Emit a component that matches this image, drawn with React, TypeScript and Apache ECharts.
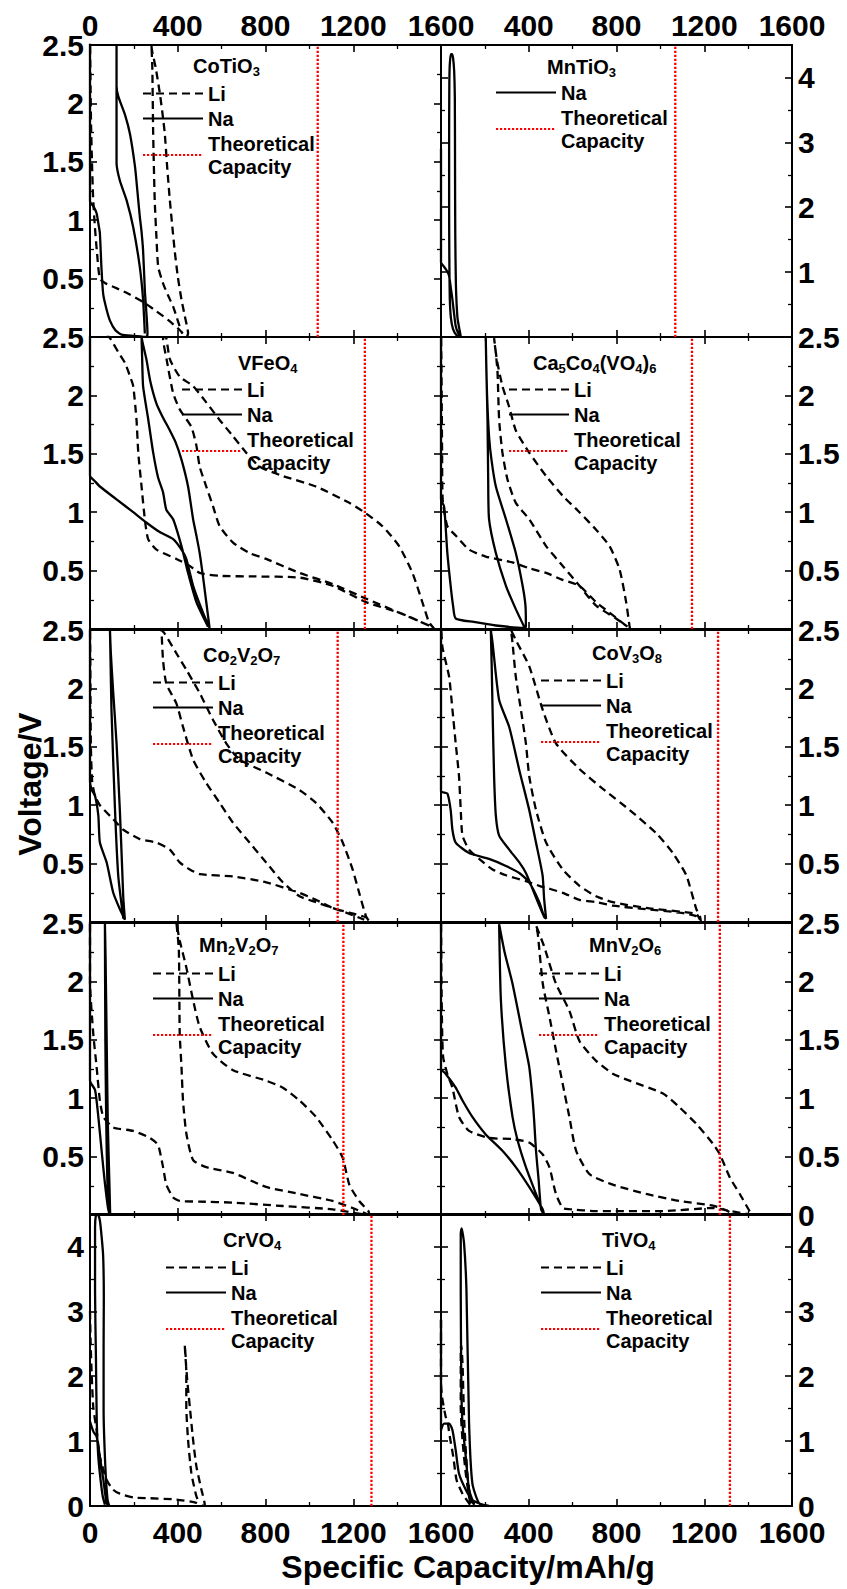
import React, { useEffect, useRef } from "react";
import * as echarts from "echarts";

const FONT = '"Liberation Sans", Arial, Helvetica, sans-serif';

// ---------- categories / labels ----------
const materials = ["CoTiO3", "MnTiO3", "VFeO4", "Ca5Co4(VO4)6", "Co2V2O7", "CoV3O8", "Mn2V2O7", "MnV2O6", "CrVO4", "TiVO4"];
const titleRich = [
  "{a|CoTiO}{s|3}",
  "{a|MnTiO}{s|3}",
  "{a|VFeO}{s|4}",
  "{a|Ca}{s|5}{a|Co}{s|4}{a|(VO}{s|4}{a|)}{s|6}",
  "{a|Co}{s|2}{a|V}{s|2}{a|O}{s|7}",
  "{a|CoV}{s|3}{a|O}{s|8}",
  "{a|Mn}{s|2}{a|V}{s|2}{a|O}{s|7}",
  "{a|MnV}{s|2}{a|O}{s|6}",
  "{a|CrVO}{s|4}",
  "{a|TiVO}{s|4}",
];
const xTicks = [0, 400, 800, 1200, 1600];
const voltageMax = [2.5, 4.5, 2.5, 2.5, 2.5, 2.5, 2.5, 2.5, 4.5, 4.5];
const theoreticalCapacity = [1038, 1068, 1253, 1144, 1129, 1263, 1155, 1271, 1283, 1317];

// ---------- series values: [capacity mAh/g, voltage V] ----------
const coTiO3Li = [[0,2.6],[2,2.2],[5,1.8],[9,1.5],[14,1.2],[22,0.95],[32,0.72],[45,0.5],[70,0.46],[106,0.43],[175,0.37],[242,0.30],[303,0.22],[360,0.14],[409,0.06],[440,0],
  [447,0.03],[432,0.18],[417,0.32],[400,0.52],[386,0.74],[375,0.95],[364,1.17],[352,1.45],[341,1.74],[330,1.92],[318,2.09],[300,2.3],[282,2.46],[280,2.5],
  [284,2.31],[288,1.74],[295,1.17],[303,0.85],[311,0.60],[333,0.46],[355,0.36],[379,0.26],[395,0.17],[409,0.09],[420,0.03]];
const coTiO3Na = [[0,2.6],[0,1.16],[15,1.12],[30,1.06],[40,0.95],[45,0.89],[52,0.6],[60,0.37],[75,0.24],[91,0.14],[115,0.06],[144,0.02],[200,0.01],[258,0],
  [262,0.03],[250,0.4],[242,0.74],[235,0.9],[227,1.03],[216,1.25],[205,1.46],[182,1.74],[160,1.9],[129,2.06],[121,2.15],[121,2.5],
  [121,2.03],[121,1.49],[136,1.34],[167,1.17],[197,0.94],[227,0.60],[242,0.32],[250,0.03]];

const mnTiO3Na = [[0,2.9],[0,1.15],[10,1.1],[21,1.05],[30,1.0],[37,0.94],[45,0.75],[52,0.58],[60,0.35],[67,0.17],[78,0.06],[90,0.01],
  [85,0.1],[75,0.3],[68,0.8],[65,1.6],[64,2.6],[63,3.7],[60,4.1],[55,4.3],[50,4.36],[45,4.36],[40,4.2],[38,3.9],
  [37,3.0],[37,2.0],[38,1.2],[40,0.6],[45,0.3],[55,0.12],[70,0.03],[85,0]];

const vFeO4Li = [[0,2.7],[30,2.64],[91,2.49],[129,2.37],[159,2.28],[185,2.15],[197,2.08],[212,1.79],[220,1.51],[235,1.22],[250,0.94],[265,0.77],[303,0.68],[394,0.60],[455,0.54],[500,0.48],[591,0.455],[750,0.45],[955,0.44],[1106,0.37],[1258,0.23],[1409,0.14],[1545,0.03],[1570,0],
  [1545,0.06],[1515,0.23],[1470,0.48],[1409,0.71],[1333,0.88],[1258,0.99],[1182,1.08],[1030,1.22],[879,1.31],[773,1.39],[712,1.51],[652,1.65],[591,1.79],[530,1.94],[470,2.08],[409,2.16],[364,2.31],[348,2.49],[340,2.5],
  [333,2.49],[350,2.3],[379,2.02],[409,1.88],[462,1.73],[485,1.57],[500,1.39],[530,1.22],[561,1.05],[591,0.88],[652,0.74],[727,0.65],[803,0.60],[955,0.48],[1106,0.385],[1258,0.26],[1409,0.14],[1545,0.03]];
const vFeO4Na = [[0,2.6],[0,1.31],[20,1.27],[45,1.22],[121,1.11],[197,1.0],[258,0.91],[318,0.83],[379,0.77],[417,0.68],[439,0.60],[470,0.37],[515,0.14],[545,0.01],
  [530,0.23],[515,0.45],[500,0.65],[485,0.8],[470,0.94],[447,1.22],[417,1.45],[390,1.6],[364,1.70],[330,1.82],[303,1.93],[275,2.12],[258,2.30],[240,2.45],[235,2.5],
  [238,2.3],[242,2.08],[265,1.8],[288,1.51],[310,1.3],[333,1.17],[348,1.02],[379,0.94],[417,0.71],[447,0.48],[485,0.23],[538,0.02]];

const ca5Co4Li = [[0,2.6],[3,2.0],[5,1.5],[8,1.1],[29,0.88],[67,0.8],[128,0.68],[204,0.62],[326,0.57],[402,0.52],[479,0.48],[555,0.42],[631,0.37],[707,0.23],[768,0.14],[829,0.05],[862,0],
  [859,0.03],[844,0.23],[814,0.51],[768,0.71],[707,0.85],[631,1.0],[555,1.14],[479,1.31],[402,1.51],[341,1.70],[311,1.90],[280,2.08],[255,2.3],[242,2.49],
  [257,2.22],[265,1.79],[280,1.51],[303,1.28],[341,1.08],[402,0.94],[479,0.71],[555,0.54],[631,0.37],[707,0.20],[798,0.09],[850,0.02]];
const ca5Co4Na = [[0,2.6],[0,1.11],[14,1.05],[21,0.88],[29,0.65],[44,0.37],[55,0.2],[67,0.09],[150,0.06],[250,0.03],[379,0.01],[387,0.02],
  [385,0.2],[372,0.37],[341,0.65],[296,0.94],[250,1.22],[230,1.45],[219,1.65],[210,2.0],[206,2.3],[204,2.5],
  [207,2.2],[212,1.79],[215,1.3],[219,0.94],[250,0.65],[296,0.37],[341,0.17],[379,0.02]];

const co2V2O7Li = [[0,2.6],[2,2.0],[4,1.5],[10,1.2],[23,1.08],[45,1.0],[106,0.88],[152,0.79],[227,0.71],[303,0.68],[364,0.62],[409,0.51],[455,0.45],[500,0.41],[652,0.39],[803,0.34],[955,0.25],[1030,0.19],[1106,0.12],[1182,0.08],[1258,0.04],[1275,0],
  [1258,0.05],[1227,0.25],[1197,0.45],[1152,0.68],[1106,0.85],[1030,1.02],[955,1.13],[803,1.28],[682,1.39],[621,1.53],[561,1.73],[500,1.96],[439,2.16],[394,2.30],[340,2.47],[326,2.5],
  [333,2.24],[348,2.04],[394,1.87],[424,1.67],[470,1.39],[530,1.19],[591,1.02],[652,0.85],[727,0.68],[803,0.51],[879,0.34],[955,0.22],[1030,0.17],[1106,0.12],[1182,0.07],[1250,0.02]];
const co2V2O7Na = [[0,2.6],[0,1.2],[8,1.13],[23,1.08],[38,0.91],[45,0.68],[76,0.51],[106,0.25],[136,0.11],[159,0.02],
  [152,0.2],[148,0.39],[136,0.96],[121,1.53],[106,1.96],[95,2.3],[91,2.5],
  [94,2.2],[98,1.81],[114,0.96],[129,0.39],[152,0.03]];

const coV3O8Li = [[0,2.6],[6,2.36],[37,2.10],[52,1.82],[67,1.53],[82,1.25],[90,0.96],[98,0.74],[128,0.62],[174,0.54],[235,0.45],[296,0.40],[387,0.35],[448,0.31],[555,0.25],[631,0.19],[707,0.17],[783,0.14],[935,0.11],[1088,0.08],[1164,0.05],[1185,0],
  [1180,0.05],[1164,0.11],[1118,0.40],[1057,0.59],[981,0.76],[859,0.96],[738,1.14],[631,1.31],[524,1.53],[463,1.82],[402,2.19],[345,2.4],[319,2.5],
  [326,2.39],[341,2.10],[364,1.82],[387,1.53],[402,1.25],[433,0.96],[479,0.68],[555,0.45],[631,0.31],[707,0.22],[783,0.17],[935,0.12],[1164,0.07],[1180,0.02]];
const coV3O8Na = [[0,2.6],[0,1.12],[29,1.10],[44,0.96],[52,0.79],[67,0.68],[128,0.59],[219,0.54],[296,0.48],[357,0.42],[402,0.34],[448,0.17],[471,0.04],[479,0.03],
  [470,0.2],[463,0.40],[433,0.68],[402,0.96],[357,1.30],[311,1.67],[265,1.90],[235,2.39],[227,2.5],
  [231,2.2],[235,1.82],[242,1.25],[250,0.91],[265,0.74],[311,0.62],[357,0.51],[387,0.42],[418,0.28],[448,0.14],[471,0.04]];

const mn2V2O7Li = [[0,2.6],[0,2.0],[15,1.55],[30,1.27],[45,0.98],[61,0.84],[106,0.75],[197,0.72],[273,0.66],[310,0.6],[333,0.41],[348,0.26],[379,0.15],[409,0.12],[500,0.115],[652,0.106],[879,0.077],[1106,0.049],[1197,0.02],[1273,0],
  [1270,0.03],[1227,0.12],[1182,0.26],[1152,0.49],[1106,0.64],[1030,0.84],[955,0.98],[879,1.09],[803,1.15],[652,1.24],[561,1.38],[500,1.61],[470,1.84],[439,2.12],[409,2.35],[394,2.5],
  [405,2.27],[409,1.55],[417,1.27],[424,0.98],[439,0.70],[470,0.47],[530,0.41],[652,0.36],[803,0.24],[955,0.18],[1106,0.12],[1197,0.06],[1260,0.01]];
const mn2V2O7Na = [[0,2.6],[0,1.15],[23,1.07],[38,0.84],[53,0.55],[68,0.27],[83,0.05],[92,0],
  [88,0.3],[81,0.8],[76,1.5],[71,2.2],[68,2.5],
  [70,1.5],[74,0.8],[79,0.3],[86,0.02]];

const mnV2O6Li = [[0,2.6],[2,2.0],[5,1.6],[10,1.35],[30,1.2],[52,1.09],[82,0.84],[128,0.72],[219,0.66],[326,0.65],[402,0.62],[463,0.52],[494,0.41],[524,0.18],[555,0.06],[585,0.05],[707,0.034],[1012,0.034],[1240,0.06],[1317,0.034],[1423,0],
  [1408,0.03],[1362,0.18],[1317,0.32],[1271,0.52],[1240,0.61],[1164,0.78],[1088,0.92],[1012,1.04],[859,1.15],[783,1.21],[707,1.32],[631,1.49],[585,1.75],[524,1.98],[470,2.3],[433,2.48],
  [441,2.41],[464,1.98],[494,1.70],[524,1.41],[555,1.12],[585,0.84],[616,0.55],[677,0.35],[783,0.26],[936,0.18],[1088,0.12],[1240,0.08],[1300,0.04],[1330,0.01]];
const mnV2O6Na = [[0,2.6],[0,1.25],[21,1.21],[67,1.09],[98,0.98],[143,0.84],[204,0.69],[280,0.55],[341,0.41],[402,0.24],[463,0.05],[470,0],
  [456,0.05],[445,0.3],[433,0.55],[425,0.8],[418,0.98],[402,1.27],[372,1.55],[326,1.98],[290,2.25],[265,2.49],
  [273,1.84],[296,1.27],[326,0.84],[349,0.64],[387,0.41],[433,0.18],[463,0.03]];

const crVO4Li = [[0,3.0],[3,2.5],[8,2.0],[15,1.52],[30,1.17],[45,0.76],[76,0.40],[106,0.25],[136,0.19],[200,0.13],[273,0.12],[394,0.10],[485,0.05],[520,0],
  [523,0.02],[508,0.25],[485,0.61],[470,1.02],[455,1.53],[445,1.87],[435,2.3],[432,2.48],
  [436,2.3],[439,2.05],[439,1.53],[447,1.02],[462,0.51],[485,0.15],[500,0.04]];
const crVO4Na = [[0,1.3],[15,1.15],[30,1.07],[45,0.76],[61,0.4],[76,0.04],[88,0],
  [80,0.1],[70,0.6],[62,1.5],[62,2.5],[63,3.2],[60,3.85],[53,4.15],[45,4.4],[35,4.5],[27,4.48],
  [23,4.3],[23,3.3],[27,2.3],[31,1.27],[37,0.8],[45,0.5],[58,0.15],[68,0.02]];

const tiVO4Li = [[0,2.87],[0,1.9],[5,1.68],[21,1.38],[30,1.3],[40,1.07],[56,0.76],[71,0.40],[98,0.19],[128,0.04],[140,0],
  [151,0.02],[136,0.09],[121,0.45],[113,0.86],[105,1.37],[98,2.2],[92,2.48],
  [90,2.4],[90,1.52],[98,1.01],[113,0.50],[128,0.14],[136,0.02]];
const tiVO4Na = [[0,2.87],[0,1.17],[14,1.27],[37,1.27],[52,1.17],[67,0.86],[82,0.5],[113,0.25],[143,0.09],[189,0.02],[219,0],
  [174,0.04],[143,0.35],[128,1.27],[116,3.33],[105,4.05],[94,4.28],[90,4.2],
  [90,3.33],[93,1.79],[98,1.27],[113,0.76],[128,0.25],[151,0.02]];

const liCurves = [coTiO3Li, null, vFeO4Li, ca5Co4Li, co2V2O7Li, coV3O8Li, mn2V2O7Li, mnV2O6Li, crVO4Li, tiVO4Li];
const naCurves = [coTiO3Na, mnTiO3Na, vFeO4Na, ca5Co4Na, co2V2O7Na, coV3O8Na, mn2V2O7Na, mnV2O6Na, crVO4Na, tiVO4Na];

// ---------- layout (positions only) ----------
const rowTops = [45, 337, 630, 923, 1214];
const rowH = 292;
const colLeft = [90, 441];
const colW = 351;
const titlePos = [[193, 54], [547, 55], [238, 351], [533, 351], [203, 643], [592, 641], [199, 933], [589, 933], [223, 1228], [602, 1228]];
const legendPos = [[142, 82], [495, 81], [181, 378], [508, 378], [152, 671], [540, 669], [152, 962], [538, 962], [165, 1256], [540, 1256]];

function buildOption() {
  const grid: any[] = [];
  const xAxis: any[] = [];
  const yAxis: any[] = [];
  const series: any[] = [];
  const legend: any[] = [];
  const title: any[] = [];

  const axisLine = { show: true, onZero: false, lineStyle: { color: "#000", width: 2 } };
  const axisTick = { show: true, inside: true, length: 7, lineStyle: { color: "#000", width: 1.6 } };
  const minorTick = { show: true, splitNumber: 2, length: 4, lineStyle: { color: "#000", width: 1.3 } };
  const lbl = { color: "#000", fontSize: 30, fontWeight: "bold", fontFamily: FONT };

  materials.forEach((m, i) => {
    const row = Math.floor(i / 2);
    const col = i % 2;
    grid.push({ left: colLeft[col], top: rowTops[row], width: colW, height: rowH, containLabel: false });

    const xBase = {
      type: "value", gridIndex: i, min: xTicks[0], max: xTicks[xTicks.length - 1], interval: xTicks[1] - xTicks[0],
      axisLine, axisTick, minorTick, splitLine: { show: false },
    };
    const xFmt = (v: number) => (col === 1 && v === 0 ? "" : String(v));
    xAxis.push({ ...xBase, position: "bottom", axisLabel: { ...lbl, lineHeight: 22, show: row === 4, margin: 15, formatter: xFmt } });
    xAxis.push({ ...xBase, position: "top", axisLabel: { ...lbl, show: row === 0, margin: 5, formatter: xFmt } });

    const ymax = voltageMax[i];
    const interval = ymax > 3 ? 1 : 0.5;
    const yBase = { type: "value", gridIndex: i, min: 0, max: ymax, interval, axisLine, axisTick, minorTick, splitLine: { show: false } };
    const mkFmt = (hideZero: boolean) => (v: number) => {
      if (ymax > 3 && !Number.isInteger(v)) return "";
      if (v === 0 && hideZero) return "";
      return String(v);
    };
    yAxis.push({ ...yBase, position: "left", axisLabel: { ...lbl, lineHeight: 22, show: col === 0, margin: 6, formatter: mkFmt(row < 4) } });
    yAxis.push({ ...yBase, position: "right", axisLabel: { ...lbl, lineHeight: 22, show: col === 1, margin: 6, formatter: mkFmt(row < 3) } });

    const common = { type: "line", xAxisIndex: 2 * i, yAxisIndex: 2 * i, symbol: "none", showSymbol: false, smooth: 0.2, silent: true, animation: false };
    const names: string[] = [];
    if (liCurves[i]) {
      series.push({ ...common, name: "Li", data: liCurves[i], itemStyle: { color: "#000" }, lineStyle: { color: "#000", width: 2.3, type: [8, 5] } });
      names.push("Li");
    }
    series.push({ ...common, name: "Na", data: naCurves[i], itemStyle: { color: "#000" }, lineStyle: { color: "#000", width: 2.3, type: "solid" } });
    names.push("Na");
    const c = theoreticalCapacity[i];
    series.push({ ...common, smooth: false, name: "Theoretical Capacity", data: [[c, 0], [c, ymax]], itemStyle: { color: "#ff0000" }, lineStyle: { color: "#ff0000", width: 2.3, type: [2.2, 1.8] }, z: 4 });
    names.push("Theoretical Capacity");

    legend.push({
      orient: "vertical", left: legendPos[i][0], top: legendPos[i][1], padding: 0, itemGap: 2, itemWidth: 60, itemHeight: 14,
      data: names, selectedMode: false,
      itemStyle: { opacity: 0, color: "rgba(0,0,0,0)", borderWidth: 0 },
      textStyle: { color: "#000", fontSize: 20, fontWeight: "bold", fontFamily: FONT, lineHeight: 23 },
      formatter: (n: string) => (n === "Theoretical Capacity" ? "Theoretical\nCapacity" : n),
    });

    title.push({
      left: titlePos[i][0], top: titlePos[i][1], padding: 0, text: titleRich[i],
      textStyle: {
        rich: {
          a: { fontSize: 20, fontWeight: "bold", fontFamily: FONT, color: "#000", lineHeight: 24 },
          s: { fontSize: 13, fontWeight: "bold", fontFamily: FONT, color: "#000", lineHeight: 15, verticalAlign: "bottom" },
        },
      },
    });
  });

  return {
    animation: false,
    backgroundColor: "#fff",
    grid, xAxis, yAxis, series, legend, title,
    graphic: [
      { type: "text", x: 30, y: 784, rotation: Math.PI / 2, style: { text: "Voltage/V", fill: "#000", font: `bold 32px ${FONT}`, align: "center", verticalAlign: "middle" } },
      { type: "text", x: 468, y: 1567, style: { text: "Specific Capacity/mAh/g", fill: "#000", font: `bold 32px ${FONT}`, align: "center", verticalAlign: "middle" } },
    ],
  };
}

export default function App() {
  const ref = useRef<HTMLDivElement>(null);
  useEffect(() => {
    if (!ref.current) return;
    const chart = echarts.init(ref.current, undefined, { renderer: "svg" });
    chart.setOption(buildOption() as any);
    return () => chart.dispose();
  }, []);
  return <div ref={ref} style={{ position: "absolute", left: 0, top: 0, width: 847, height: 1589, background: "#fff" }} />;
}
